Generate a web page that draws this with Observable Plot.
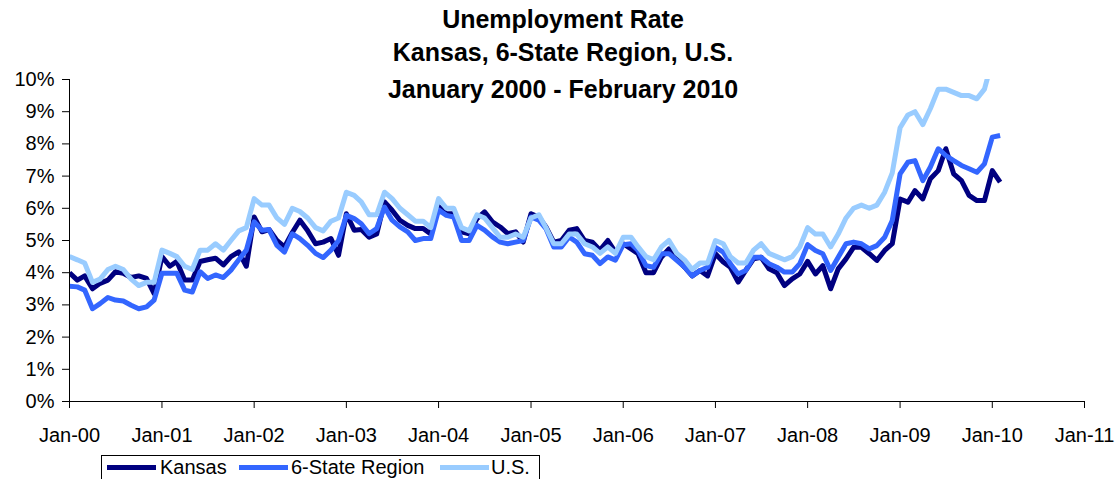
<!DOCTYPE html>
<html>
<head>
<meta charset="utf-8">
<script src="https://cdn.jsdelivr.net/npm/d3@7"></script>
<script src="https://cdn.jsdelivr.net/npm/@observablehq/plot@0.6"></script>
<style>
  html, body { margin: 0; padding: 0; background: #fff; }
  #wrap { position: relative; width: 1119px; height: 479px; overflow: hidden; font-family: "Liberation Sans", Arial, sans-serif; color: #000; }
  #chart { position: absolute; left: 0; top: 0; }
  .title { position: absolute; left: 0; width: 1126px; text-align: center; font-weight: bold; font-size: 25px; line-height: 25px; white-space: nowrap; }
  #legend { position: absolute; left: 101px; top: 455px; width: 439px; height: 40px; border: 1px solid #000; box-sizing: border-box; }
  .sw { position: absolute; height: 5px; }
  .lt { position: absolute; font-size: 20px; line-height: 20px; white-space: nowrap; }
</style>
</head>
<body>
<div id="wrap">
  <div id="chart"></div>
  <div class="title" id="t1" style="top:7px"></div>
  <div class="title" id="t2" style="top:40px"></div>
  <div class="title" id="t3" style="top:77px"></div>
  <div id="legend"></div>
</div>
<script>
// ---- Data (unemployment rate, %, monthly Jan 2000 - Feb 2010) ----
const titleLines = ["Unemployment Rate", "Kansas, 6-State Region, U.S.", "January 2000 - February 2010"];
const seriesNames = ["Kansas", "6-State Region", "U.S."];
const seriesColors = ["#000080", "#3366FF", "#99CCFF"];

const kansas = [
  4.0, 3.77, 3.9, 3.5, 3.67, 3.77, 4.03, 3.98, 3.85, 3.9, 3.82, 3.35,
  4.5, 4.2, 4.35, 3.77, 3.77, 4.35, 4.4, 4.45, 4.24, 4.5, 4.65, 4.2,
  5.73, 5.27, 5.34, 5.0, 4.8, 5.25, 5.63, 5.3, 4.9, 4.95, 5.06, 4.54,
  5.83, 5.32, 5.34, 5.1, 5.2, 6.2, 5.94, 5.63, 5.47, 5.37, 5.37, 5.2,
  6.05, 5.83, 5.83, 5.27, 5.21, 5.68, 5.89, 5.58, 5.42, 5.21, 5.27, 4.95,
  5.83, 5.73, 5.42, 4.95, 5.0, 5.32, 5.37, 5.0, 4.95, 4.7, 5.0, 4.64,
  4.9, 4.74, 4.59, 4.0, 4.0, 4.48, 4.74, 4.43, 4.17, 3.9, 4.07, 3.9,
  4.59, 4.33, 4.17, 3.71, 4.07, 4.43, 4.48, 4.12, 4.0, 3.6, 3.81, 3.96,
  4.35, 3.96, 4.22, 3.5, 4.12, 4.43, 4.79, 4.79, 4.59, 4.38, 4.69, 4.9,
  6.29, 6.19, 6.55, 6.29, 6.92, 7.17, 7.85, 7.07, 6.86, 6.4, 6.24, 6.24,
  7.17, 6.81
];
const region6 = [
  3.58, 3.56, 3.46, 2.88, 3.04, 3.23, 3.15, 3.12, 2.99, 2.88, 2.94, 3.15,
  3.98, 3.98, 3.98, 3.46, 3.4, 4.03, 3.82, 3.93, 3.85, 4.08, 4.4, 4.7,
  5.58, 5.32, 5.34, 4.85, 4.64, 5.21, 5.06, 4.85, 4.6, 4.47, 4.7, 5.0,
  5.78, 5.68, 5.52, 5.21, 5.37, 6.04, 5.63, 5.42, 5.27, 5.0, 5.06, 5.06,
  5.95, 5.78, 5.73, 5.0, 5.0, 5.47, 5.32, 5.11, 4.95, 4.9, 4.95, 5.0,
  5.73, 5.63, 5.37, 4.8, 4.8, 5.11, 4.95, 4.59, 4.54, 4.28, 4.49, 4.39,
  4.87, 4.9, 4.69, 4.22, 4.17, 4.59, 4.59, 4.38, 4.17, 3.9, 4.07, 4.17,
  4.79, 4.64, 4.28, 3.96, 4.07, 4.48, 4.48, 4.28, 4.17, 4.02, 4.02, 4.28,
  4.87, 4.69, 4.59, 4.07, 4.48, 4.9, 4.95, 4.9, 4.74, 4.84, 5.1, 5.62,
  7.07, 7.43, 7.48, 6.86, 7.28, 7.85, 7.64, 7.48, 7.33, 7.23, 7.12, 7.38,
  8.21, 8.26
];
const us = [
  4.5, 4.4, 4.3, 3.7, 3.8, 4.1, 4.2, 4.1, 3.8, 3.6, 3.7, 3.7,
  4.7, 4.6, 4.5, 4.2, 4.1, 4.7, 4.7, 4.9, 4.7, 5.0, 5.3, 5.4,
  6.3, 6.1, 6.1, 5.7, 5.5, 6.0, 5.9, 5.7, 5.4, 5.3, 5.6, 5.7,
  6.5, 6.4, 6.2, 5.8, 5.8, 6.5, 6.3, 6.0, 5.8, 5.6, 5.6, 5.4,
  6.3, 6.0, 6.0, 5.4, 5.3, 5.8, 5.7, 5.4, 5.1, 5.1, 5.2, 5.1,
  5.7, 5.8, 5.4, 4.9, 4.9, 5.2, 5.2, 4.9, 4.8, 4.6, 4.8, 4.6,
  5.1, 5.1, 4.8, 4.5, 4.4, 4.8, 5.0, 4.6, 4.4, 4.1, 4.3, 4.3,
  5.0, 4.9, 4.5, 4.3, 4.3, 4.7, 4.9, 4.6, 4.5, 4.4, 4.5, 4.8,
  5.4, 5.2, 5.2, 4.8, 5.2, 5.7, 6.0, 6.1, 6.0, 6.1, 6.5, 7.1,
  8.5, 8.9, 9.0, 8.6, 9.1, 9.7, 9.7, 9.6, 9.5, 9.5, 9.4, 9.7,
  10.6, 10.4
];
const xTickYears = [2000, 2001, 2002, 2003, 2004, 2005, 2006, 2007, 2008, 2009, 2010, 2011];
const yTicks = [0, 1, 2, 3, 4, 5, 6, 7, 8, 9, 10];

// ---- Build ----
const toRows = (vals, name) => vals.map((v, i) => ({ date: new Date(Date.UTC(2000, i, 1)), value: v, series: name }));
const allSeries = [kansas, region6, us];
const xTicks = xTickYears.map(y => new Date(Date.UTC(y, 0, 1)));
const xStart = xTicks[0], xEnd = xTicks[xTicks.length - 1];

const chart = Plot.plot({
  width: 1119,
  height: 479,
  marginTop: 79,
  marginBottom: 78,
  marginLeft: 69,
  marginRight: 35,
  style: { fontFamily: "'Liberation Sans', Arial, sans-serif", fontSize: "20px", color: "#000", background: "transparent" },
  x: { type: "utc", domain: [xStart, xEnd], ticks: xTicks, tickFormat: d3.utcFormat("%b-%y"), tickSize: 7, tickPadding: 19, label: null },
  y: { domain: [0, 10], ticks: yTicks, tickFormat: d => d + "%", tickSize: 7, tickPadding: 8, label: null },
  marks: [
    ...allSeries.map((vals, k) => Plot.line(toRows(vals, seriesNames[k]), {
      x: "date", y: "value", stroke: seriesColors[k], strokeWidth: 5,
      strokeLinejoin: "round", strokeLinecap: "butt", clip: true
    })),
    Plot.ruleY([0], { stroke: "#000", strokeWidth: 1 }),
    Plot.ruleX([xStart], { stroke: "#000", strokeWidth: 1 })
  ]
});
document.getElementById("chart").appendChild(chart);

// Titles
["t1", "t2", "t3"].forEach((id, i) => { document.getElementById(id).textContent = titleLines[i]; });

// Legend
const legend = document.getElementById("legend");
const swX = [5, 137, 338];   // relative to legend box
const txX = [58, 189, 389];
seriesNames.forEach((name, k) => {
  const sw = document.createElement("div");
  sw.className = "sw";
  sw.style.left = swX[k] + "px";
  sw.style.width = "49px";
  sw.style.top = "9px";
  sw.style.background = seriesColors[k];
  legend.appendChild(sw);
  const tx = document.createElement("div");
  tx.className = "lt";
  tx.style.left = txX[k] + "px";
  tx.style.top = "1px";
  tx.textContent = name;
  legend.appendChild(tx);
});
</script>
</body>
</html>
